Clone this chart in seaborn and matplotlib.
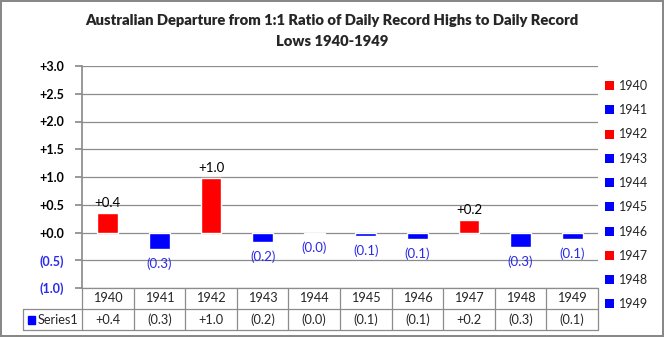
import matplotlib
matplotlib.use("Agg")
import matplotlib.pyplot as plt
from matplotlib.patches import Patch, Rectangle
import seaborn as sns
import pandas as pd

years = ["1940", "1941", "1942", "1943", "1944", "1945", "1946", "1947", "1948", "1949"]
values = [0.35, -0.30, 0.98, -0.18, -0.02, -0.07, -0.12, 0.23, -0.27, -0.12]
value_labels = ["+0.4", "(0.3)", "+1.0", "(0.2)", "(0.0)", "(0.1)", "(0.1)", "+0.2", "(0.3)", "(0.1)"]
yticks = [-1.0, -0.5, 0.0, 0.5, 1.0, 1.5, 2.0, 2.5, 3.0]
ytick_labels = ["(1.0)", "(0.5)", "+0.0", "+0.5", "+1.0", "+1.5", "+2.0", "+2.5", "+3.0"]
series_name = "Series1"
title = "Australian Departure from 1:1 Ratio of Daily Record Highs to Daily Record\nLows 1940-1949"

RED = "#FF0000"
BLUE = "#0000FF"
LBLUE = "#2A2AE8"
GRID = "#8C8C8C"

sns.set_theme(style="white")
plt.rcParams['font.family'] = ['Lato', 'DejaVu Sans']

W, H = 664, 337
fig = plt.figure(figsize=(W / 100, H / 100), dpi=100, linewidth=1.5, edgecolor="#888888")

left, right, top, bottom = 82, 598, 66, 288
ax = fig.add_axes([left / W, 1 - bottom / H, (right - left) / W, (bottom - top) / H])

df = pd.DataFrame({"year": years, "value": values,
                   "sign": ["pos" if v >= 0 else "neg" for v in values]})
sns.barplot(data=df, x="year", y="value", hue="sign", palette={"pos": RED, "neg": BLUE},
            width=0.4, dodge=False, legend=False, saturation=1, ax=ax, zorder=3)

ax.set_xlim(-0.5, len(years) - 0.5)
ax.set_ylim(-1.0, 3.0)
ax.set_yticks(yticks)
ax.set_yticklabels(ytick_labels, fontsize=9, fontweight="bold")
for t, v in zip(ax.get_yticklabels(), yticks):
    t.set_color(LBLUE if v < 0 else "black")
ax.yaxis.grid(True, color=GRID, lw=0.9, zorder=0)
ax.xaxis.grid(False)
ax.set_xticks([])
ax.set_xlabel("")
ax.set_ylabel("")
for s in ["top", "right", "bottom"]:
    ax.spines[s].set_visible(False)
ax.spines["left"].set_color(GRID)
ax.tick_params(axis="y", which="both", left=True, length=5, color=GRID, pad=8)

for i, (v, lab) in enumerate(zip(values, value_labels)):
    if v >= 0:
        ax.annotate(lab, (i, v), xytext=(0, 3), textcoords="offset points",
                    ha="center", va="bottom", fontsize=9.5, color="black")
    else:
        ax.annotate(lab, (i, v), xytext=(0, -6), textcoords="offset points",
                    ha="center", va="top", fontsize=9.5, color=LBLUE)

# data table
tb_top, tb_bot = 288, 330
tax = fig.add_axes([left / W, 1 - tb_bot / H, (right - left) / W, (tb_bot - tb_top) / H])
tax.set_xlim(-0.5, len(years) - 0.5)
tax.set_ylim(0, 2)
tax.axis("off")
colw = (right - left) / len(years)
rowh = (tb_bot - tb_top) / 2
xl = -0.5 - (left - 23) / colw
kw = dict(color=GRID, lw=0.9, clip_on=False)
tax.plot([-0.5, len(years) - 0.5], [2, 2], **kw)
tax.plot([xl, len(years) - 0.5], [1, 1], **kw)
tax.plot([xl, len(years) - 0.5], [0, 0], **kw)
for k in range(len(years) + 1):
    tax.plot([k - 0.5, k - 0.5], [0, 2], **kw)
tax.plot([xl, xl], [0, 1], **kw)
for i, (y, lab) in enumerate(zip(years, value_labels)):
    tax.text(i, 1.5, y, ha="center", va="center", fontsize=9.2)
    tax.text(i, 0.5, lab, ha="center", va="center", fontsize=9.2)
tax.add_patch(Rectangle((xl + 5 / colw, 0.5 - 4 / rowh), 7 / colw, 8 / rowh,
                        color=BLUE, clip_on=False))
tax.text(xl + 15 / colw, 0.5, series_name, ha="left", va="center", fontsize=9.2)

# legend
handles = [Patch(facecolor=RED if v >= 0 else BLUE, edgecolor="none") for v in values]
fig.legend(handles, years, loc="upper left", bbox_to_anchor=(605 / W, 1 - 80 / H),
           frameon=False, fontsize=9, handlelength=0.75, handleheight=0.75,
           handletextpad=0.4, labelspacing=0.98, borderaxespad=0, borderpad=0)

fig.text(0.5, 1 - 31 / H, title, ha="center", va="center", fontsize=10.6,
         fontweight="heavy", linespacing=1.65)

fig.savefig("out.png", dpi=100, edgecolor=fig.get_edgecolor())
